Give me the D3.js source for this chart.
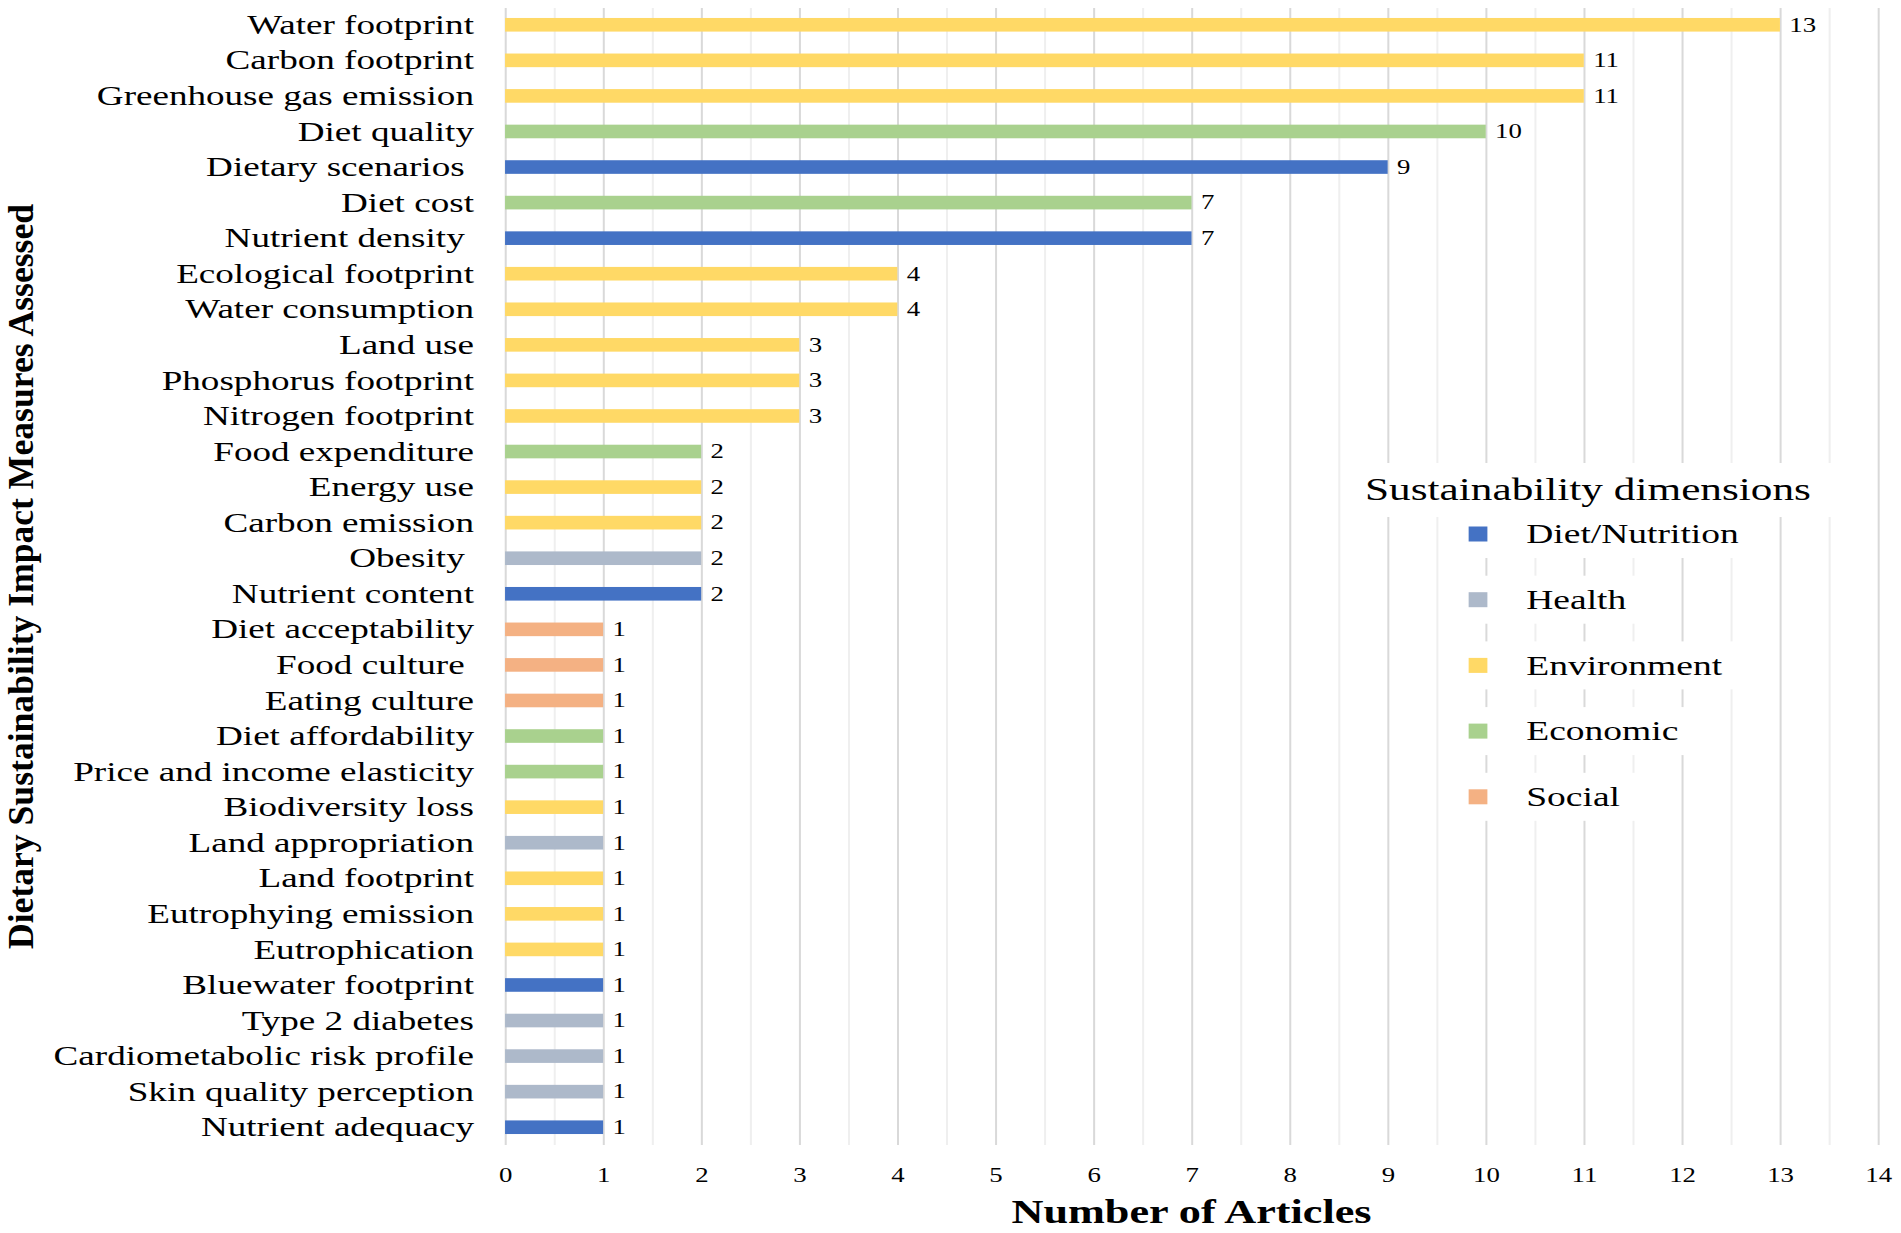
<!DOCTYPE html>
<html>
<head>
<meta charset="utf-8">
<script src="https://cdn.jsdelivr.net/npm/d3@7"></script>
<style>
    html, body { margin: 0; padding: 0; background: #fff; }
    svg text { font-family: "Liberation Serif", "Times New Roman", serif; fill: #000; }
    .label-cat { white-space: pre; }
</style>
</head>
<body>
<div id="chart"></div>
<script>
// DATA (top to bottom as in the figure)
const measures = [
    "Water footprint", "Carbon footprint", "Greenhouse gas emission", "Diet quality",
    "Dietary scenarios ", "Diet cost", "Nutrient density ", "Ecological footprint",
    "Water consumption", "Land use", "Phosphorus footprint", "Nitrogen footprint",
    "Food expenditure", "Energy use", "Carbon emission", "Obesity ", "Nutrient content",
    "Diet acceptability", "Food culture ", "Eating culture", "Diet affordability",
    "Price and income elasticity", "Biodiversity loss", "Land appropriation", "Land footprint",
    "Eutrophying emission", "Eutrophication", "Bluewater footprint", "Type 2 diabetes",
    "Cardiometabolic risk profile", "Skin quality perception", "Nutrient adequacy"
];
const articles = [13, 11, 11, 10, 9, 7, 7, 4, 4, 3, 3, 3, 2, 2, 2, 2, 2,
    1, 1, 1, 1, 1, 1, 1, 1, 1, 1, 1, 1, 1, 1, 1];
const measureDimension = [
    "Environment", "Environment", "Environment", "Economic", "Diet/Nutrition", "Economic",
    "Diet/Nutrition", "Environment", "Environment", "Environment", "Environment", "Environment",
    "Economic", "Environment", "Environment", "Health", "Diet/Nutrition", "Social", "Social",
    "Social", "Economic", "Economic", "Environment", "Health", "Environment", "Environment",
    "Environment", "Diet/Nutrition", "Health", "Health", "Health", "Diet/Nutrition"
];
const dimensions = ["Diet/Nutrition", "Health", "Environment", "Economic", "Social"];
const dimensionColors = ["#4472C4", "#ADB9CA", "#FFD966", "#A9D18E", "#F4B183"];
const xMax = 14;
const xTitle = "Number of Articles";
const yTitle = "Dietary Sustainability Impact Measures Assessed";
const legendTitle = "Sustainability dimensions";

// the original figure is stretched sideways, so draw in a narrower box and stretch it
const cfg = {
    'stretch': 1.34,
    'width': 1901,
    'height': 1233,
    'plot': {'left': 376.9, 'right': 1401.5, 'top': 7, 'bottom': 1145},
    'catSize': 27.7,
    'tickSize': 20,
    'valueSize': 20,
    'legend': {'x': 1018.7, 'titleY': 500, 'markX': 1096, 'textX': 1139, 'y0': 534, 'step': 65.7}
};
const vw = cfg.width / cfg.stretch;

const data = measures.map(function(m, i) {
    return {'name': m, 'value': articles[i], 'dim': measureDimension[i]};
});

const svg = d3.select('#chart').append('svg')
    .attr('width', cfg.width)
    .attr('height', cfg.height)
    .attr('viewBox', '0 0 ' + vw + ' ' + cfg.height)
    .attr('preserveAspectRatio', 'none');

const x = d3.scaleLinear().domain([0, xMax]).range([cfg.plot.left, cfg.plot.right]);
const y = d3.scaleBand().domain(measures)
    .range([cfg.plot.top, cfg.plot.bottom])
    .paddingInner(0.617).paddingOuter(0.3085);
const color = d3.scaleOrdinal().domain(dimensions).range(dimensionColors);

// GRIDLINES (half steps lighter)
const minor = d3.range(0.5, xMax, 1);
const major = d3.range(0, xMax + 1, 1);
svg.append('g').attr('class', 'grid grid--minor')
    .attr('transform', 'translate(0,' + cfg.plot.bottom + ')')
    .call(d3.axisBottom(x).tickValues(minor).tickSize(-(cfg.plot.bottom - 8)).tickFormat(''))
    .call(g => g.select('.domain').remove())
    .call(g => g.selectAll('line').attr('stroke', '#EFEFEF').attr('stroke-width', 1.5));
svg.append('g').attr('class', 'grid grid--major')
    .attr('transform', 'translate(0,' + cfg.plot.bottom + ')')
    .call(d3.axisBottom(x).tickValues(major).tickSize(-(cfg.plot.bottom - 8)).tickFormat(''))
    .call(g => g.select('.domain').remove())
    .call(g => g.selectAll('line').attr('stroke', '#D9D9D9').attr('stroke-width', 1.5));

// X TICK LABELS
svg.append('g').attr('class', 'axis axis--x')
    .attr('transform', 'translate(0,' + cfg.plot.bottom + ')')
    .call(d3.axisBottom(x).tickValues(major).tickSize(0).tickPadding(37).tickFormat(d3.format('d')))
    .call(g => g.select('.domain').remove())
    .call(g => g.selectAll('text')
        .attr('font-size', cfg.tickSize)
        .attr('fill', '#000')
        .attr('dy', 0)
        .style('font-family', '"Liberation Serif", serif'));

// BARS
svg.append('g').selectAll('rect')
    .data(data).enter()
    .append('rect')
    .attr('x', x(0))
    .attr('y', d => y(d.name))
    .attr('width', d => x(d.value) - x(0))
    .attr('height', y.bandwidth())
    .attr('fill', d => color(d.dim));

// VALUE LABELS
svg.append('g').selectAll('text')
    .data(data).enter()
    .append('text')
    .attr('x', d => x(d.value) + 7)
    .attr('y', d => y(d.name) + y.bandwidth() / 2)
    .attr('dy', '0.34em')
    .attr('font-size', cfg.valueSize)
    .text(d => d.value);

// CATEGORY LABELS
svg.append('g').selectAll('text')
    .data(data).enter()
    .append('text')
    .attr('class', 'label-cat')
    .attr('x', cfg.plot.left - 23.2)
    .attr('y', d => y(d.name) + y.bandwidth() / 2)
    .attr('dy', '0.33em')
    .attr('text-anchor', 'end')
    .attr('font-size', cfg.catSize)
    .text(d => d.name);

// AXIS TITLES
svg.append('text')
    .attr('x', (cfg.plot.left + cfg.plot.right) / 2)
    .attr('y', 1223)
    .attr('text-anchor', 'middle')
    .attr('font-size', 33)
    .attr('font-weight', 'bold')
    .text(xTitle);

svg.append('text')
    .attr('transform', 'translate(24.5,576.5) rotate(-90)')
    .attr('text-anchor', 'middle')
    .attr('font-size', 26)
    .attr('font-weight', 'bold')
    .attr('textLength', 745)
    .attr('lengthAdjust', 'spacingAndGlyphs')
    .text(yTitle);

// LEGEND
const lg = svg.append('g').attr('class', 'legend');
lg.append('rect')
    .attr('x', cfg.legend.x - 15).attr('y', 463)
    .attr('width', 392).attr('height', 54)
    .attr('fill', '#fff');
lg.append('text')
    .attr('x', cfg.legend.x)
    .attr('y', cfg.legend.titleY)
    .attr('font-size', 32.3)
    .text(legendTitle);

const items = lg.selectAll('.legend-item')
    .data(dimensions).enter()
    .append('g')
    .attr('class', 'legend-item')
    .attr('transform', (d, i) => 'translate(0,' + (cfg.legend.y0 + i * cfg.legend.step) + ')');

items.append('rect').attr('class', 'legend-bg').attr('fill', '#fff');
items.append('rect')
    .attr('x', cfg.legend.markX)
    .attr('y', -7.5)
    .attr('width', 14)
    .attr('height', 15)
    .attr('fill', d => color(d));
items.append('text')
    .attr('x', cfg.legend.textX)
    .attr('dy', '0.33em')
    .attr('font-size', 28)
    .text(d => d);
items.each(function() {
    const w = d3.select(this).select('text').node().getComputedTextLength();
    d3.select(this).select('.legend-bg')
        .attr('x', cfg.legend.markX - 12)
        .attr('y', -24)
        .attr('height', 48)
        .attr('width', cfg.legend.textX - cfg.legend.markX + 12 + w + 14);
});
</script>
</body>
</html>
